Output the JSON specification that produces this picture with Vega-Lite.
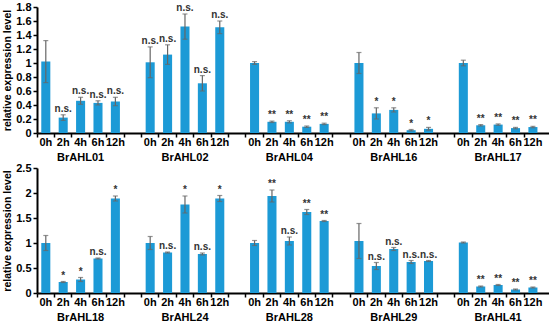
{
  "$schema": "https://vega.github.io/schema/vega-lite/v6.json",
  "padding": {"left": 2, "top": 1, "right": 0, "bottom": 0},
  "spacing": 0,
  "datasets": {
    "d": [
      {"row": 1, "gene": "BrAHL01", "time": "0h", "mean": 1.02, "err": 0.30, "sig": ""},
      {"row": 1, "gene": "BrAHL01", "time": "2h", "mean": 0.22, "err": 0.04, "sig": "n.s."},
      {"row": 1, "gene": "BrAHL01", "time": "4h", "mean": 0.46, "err": 0.05, "sig": "n.s."},
      {"row": 1, "gene": "BrAHL01", "time": "6h", "mean": 0.43, "err": 0.03, "sig": "n.s."},
      {"row": 1, "gene": "BrAHL01", "time": "12h", "mean": 0.45, "err": 0.06, "sig": "n.s."},
      {"row": 1, "gene": "BrAHL02", "time": "0h", "mean": 1.01, "err": 0.22, "sig": "n.s."},
      {"row": 1, "gene": "BrAHL02", "time": "2h", "mean": 1.12, "err": 0.14, "sig": "n.s."},
      {"row": 1, "gene": "BrAHL02", "time": "4h", "mean": 1.52, "err": 0.18, "sig": "n.s."},
      {"row": 1, "gene": "BrAHL02", "time": "6h", "mean": 0.71, "err": 0.11, "sig": "n.s."},
      {"row": 1, "gene": "BrAHL02", "time": "12h", "mean": 1.51, "err": 0.09, "sig": "n.s."},
      {"row": 1, "gene": "BrAHL04", "time": "0h", "mean": 1.00, "err": 0.02, "sig": ""},
      {"row": 1, "gene": "BrAHL04", "time": "2h", "mean": 0.16, "err": 0.01, "sig": "**"},
      {"row": 1, "gene": "BrAHL04", "time": "4h", "mean": 0.16, "err": 0.015, "sig": "**"},
      {"row": 1, "gene": "BrAHL04", "time": "6h", "mean": 0.09, "err": 0.01, "sig": "**"},
      {"row": 1, "gene": "BrAHL04", "time": "12h", "mean": 0.13, "err": 0.01, "sig": "**"},
      {"row": 1, "gene": "BrAHL16", "time": "0h", "mean": 1.00, "err": 0.15, "sig": ""},
      {"row": 1, "gene": "BrAHL16", "time": "2h", "mean": 0.28, "err": 0.08, "sig": "*"},
      {"row": 1, "gene": "BrAHL16", "time": "4h", "mean": 0.33, "err": 0.03, "sig": "*"},
      {"row": 1, "gene": "BrAHL16", "time": "6h", "mean": 0.04, "err": 0.01, "sig": "*"},
      {"row": 1, "gene": "BrAHL16", "time": "12h", "mean": 0.06, "err": 0.02, "sig": "*"},
      {"row": 1, "gene": "BrAHL17", "time": "0h", "mean": 1.00, "err": 0.04, "sig": ""},
      {"row": 1, "gene": "BrAHL17", "time": "2h", "mean": 0.11, "err": 0.01, "sig": "**"},
      {"row": 1, "gene": "BrAHL17", "time": "4h", "mean": 0.12, "err": 0.01, "sig": "**"},
      {"row": 1, "gene": "BrAHL17", "time": "6h", "mean": 0.07, "err": 0.01, "sig": "**"},
      {"row": 1, "gene": "BrAHL17", "time": "12h", "mean": 0.085, "err": 0.01, "sig": "**"},
      {"row": 2, "gene": "BrAHL18", "time": "0h", "mean": 1.00, "err": 0.15, "sig": ""},
      {"row": 2, "gene": "BrAHL18", "time": "2h", "mean": 0.22, "err": 0.01, "sig": "*"},
      {"row": 2, "gene": "BrAHL18", "time": "4h", "mean": 0.27, "err": 0.04, "sig": "*"},
      {"row": 2, "gene": "BrAHL18", "time": "6h", "mean": 0.69, "err": 0.01, "sig": "n.s."},
      {"row": 2, "gene": "BrAHL18", "time": "12h", "mean": 1.89, "err": 0.05, "sig": "*"},
      {"row": 2, "gene": "BrAHL24", "time": "0h", "mean": 1.00, "err": 0.13, "sig": ""},
      {"row": 2, "gene": "BrAHL24", "time": "2h", "mean": 0.81, "err": 0.01, "sig": "n.s."},
      {"row": 2, "gene": "BrAHL24", "time": "4h", "mean": 1.77, "err": 0.17, "sig": "*"},
      {"row": 2, "gene": "BrAHL24", "time": "6h", "mean": 0.78, "err": 0.02, "sig": "n.s."},
      {"row": 2, "gene": "BrAHL24", "time": "12h", "mean": 1.89, "err": 0.06, "sig": "*"},
      {"row": 2, "gene": "BrAHL28", "time": "0h", "mean": 1.00, "err": 0.05, "sig": ""},
      {"row": 2, "gene": "BrAHL28", "time": "2h", "mean": 1.94, "err": 0.12, "sig": "**"},
      {"row": 2, "gene": "BrAHL28", "time": "4h", "mean": 1.04, "err": 0.08, "sig": "n.s."},
      {"row": 2, "gene": "BrAHL28", "time": "6h", "mean": 1.62, "err": 0.05, "sig": "**"},
      {"row": 2, "gene": "BrAHL28", "time": "12h", "mean": 1.44, "err": 0.01, "sig": "**"},
      {"row": 2, "gene": "BrAHL29", "time": "0h", "mean": 1.04, "err": 0.35, "sig": ""},
      {"row": 2, "gene": "BrAHL29", "time": "2h", "mean": 0.54, "err": 0.07, "sig": "n.s."},
      {"row": 2, "gene": "BrAHL29", "time": "4h", "mean": 0.88, "err": 0.03, "sig": "n.s."},
      {"row": 2, "gene": "BrAHL29", "time": "6h", "mean": 0.62, "err": 0.03, "sig": "n.s."},
      {"row": 2, "gene": "BrAHL29", "time": "12h", "mean": 0.64, "err": 0.01, "sig": "n.s."},
      {"row": 2, "gene": "BrAHL41", "time": "0h", "mean": 1.01, "err": 0.01, "sig": ""},
      {"row": 2, "gene": "BrAHL41", "time": "2h", "mean": 0.13, "err": 0.01, "sig": "**"},
      {"row": 2, "gene": "BrAHL41", "time": "4h", "mean": 0.16, "err": 0.01, "sig": "**"},
      {"row": 2, "gene": "BrAHL41", "time": "6h", "mean": 0.07, "err": 0.01, "sig": "**"},
      {"row": 2, "gene": "BrAHL41", "time": "12h", "mean": 0.11, "err": 0.01, "sig": "**"}
    ]
  },
  "vconcat": [
    {
      "width": 512,
      "height": 126,
      "data": {"name": "d"},
      "transform": [
        {"filter": "datum.row == 1"},
        {"calculate": "datum.gene + '|' + datum.time", "as": "key"},
        {"calculate": "datum.mean - datum.err", "as": "lo"},
        {"calculate": "datum.mean + datum.err", "as": "hi"}
      ],
      "resolve": {"axis": {"x": "independent"}},
      "encoding": {
        "x": {
          "field": "key", "type": "nominal", "sort": null, "axis": null,
          "scale": {
            "domain": ["BrAHL01|0h","BrAHL01|2h","BrAHL01|4h","BrAHL01|6h","BrAHL01|12h","gap1",
                       "BrAHL02|0h","BrAHL02|2h","BrAHL02|4h","BrAHL02|6h","BrAHL02|12h","gap2",
                       "BrAHL04|0h","BrAHL04|2h","BrAHL04|4h","BrAHL04|6h","BrAHL04|12h","gap3",
                       "BrAHL16|0h","BrAHL16|2h","BrAHL16|4h","BrAHL16|6h","BrAHL16|12h","gap4",
                       "BrAHL17|0h","BrAHL17|2h","BrAHL17|4h","BrAHL17|6h","BrAHL17|12h"],
            "paddingInner": 0.48, "paddingOuter": 0.455, "align": 0.27
          }
        },
        "y": {
          "type": "quantitative",
          "scale": {"domain": [0, 1.8], "nice": false},
          "axis": {"title": "relative expression level", "values": [0, 0.2, 0.4, 0.6, 0.8, 1, 1.2, 1.4, 1.6, 1.8], "format": ".1~f"}
        }
      },
      "layer": [
        {
          "mark": {"type": "bar", "color": "#1C9AD6"},
          "encoding": {
            "x": {
              "field": "key", "type": "nominal", "sort": null,
              "scale": {
                "domain": ["BrAHL01|0h","BrAHL01|2h","BrAHL01|4h","BrAHL01|6h","BrAHL01|12h","gap1",
                           "BrAHL02|0h","BrAHL02|2h","BrAHL02|4h","BrAHL02|6h","BrAHL02|12h","gap2",
                           "BrAHL04|0h","BrAHL04|2h","BrAHL04|4h","BrAHL04|6h","BrAHL04|12h","gap3",
                           "BrAHL16|0h","BrAHL16|2h","BrAHL16|4h","BrAHL16|6h","BrAHL16|12h","gap4",
                           "BrAHL17|0h","BrAHL17|2h","BrAHL17|4h","BrAHL17|6h","BrAHL17|12h"],
                "paddingInner": 0.48, "paddingOuter": 0.455, "align": 0.27
              },
              "axis": {
                "title": null, "labelAngle": 0, "orient": "bottom", "ticks": false, "labelPadding": 3,
                "labelExpr": "indexof(datum.value, '|') < 0 ? '' : split(datum.value, '|')[1]"
              }
            },
            "y": {"field": "mean"}
          }
        },
        {
          "mark": {"type": "rule", "color": "#666666", "strokeWidth": 1.2},
          "encoding": {
            "x": {
              "field": "key", "type": "nominal", "sort": null,
              "scale": {
                "domain": ["BrAHL01|0h","BrAHL01|2h","BrAHL01|4h","BrAHL01|6h","BrAHL01|12h","gap1",
                           "BrAHL02|0h","BrAHL02|2h","BrAHL02|4h","BrAHL02|6h","BrAHL02|12h","gap2",
                           "BrAHL04|0h","BrAHL04|2h","BrAHL04|4h","BrAHL04|6h","BrAHL04|12h","gap3",
                           "BrAHL16|0h","BrAHL16|2h","BrAHL16|4h","BrAHL16|6h","BrAHL16|12h","gap4",
                           "BrAHL17|0h","BrAHL17|2h","BrAHL17|4h","BrAHL17|6h","BrAHL17|12h"],
                "paddingInner": 0.48, "paddingOuter": 0.455, "align": 0.27
              },
              "axis": {
                "title": null, "orient": "bottom", "labels": false, "domain": false, "bandPosition": -0.46
              }
            },
            "y": {"field": "lo"}, "y2": {"field": "hi"}
          }
        },
        {
          "mark": {"type": "tick", "color": "#666666", "size": 5, "thickness": 1.2},
          "encoding": {"y": {"field": "hi"}}
        },
        {
          "mark": {"type": "tick", "color": "#666666", "size": 5, "thickness": 1.2},
          "encoding": {"y": {"field": "lo"}}
        },
        {
          "mark": {"type": "text", "baseline": "bottom", "dy": -1, "fontSize": 10, "fontWeight": "bold", "color": "#333333"},
          "encoding": {
            "x": {
              "field": "key", "type": "nominal", "sort": null,
              "scale": {
                "domain": ["BrAHL01|0h","BrAHL01|2h","BrAHL01|4h","BrAHL01|6h","BrAHL01|12h","gap1",
                           "BrAHL02|0h","BrAHL02|2h","BrAHL02|4h","BrAHL02|6h","BrAHL02|12h","gap2",
                           "BrAHL04|0h","BrAHL04|2h","BrAHL04|4h","BrAHL04|6h","BrAHL04|12h","gap3",
                           "BrAHL16|0h","BrAHL16|2h","BrAHL16|4h","BrAHL16|6h","BrAHL16|12h","gap4",
                           "BrAHL17|0h","BrAHL17|2h","BrAHL17|4h","BrAHL17|6h","BrAHL17|12h"],
                "paddingInner": 0.48, "paddingOuter": 0.455, "align": 0.27
              },
              "axis": {
                "title": null, "labelAngle": 0, "orient": "bottom", "domain": false, "ticks": false, "labelPadding": 18,
                "labelExpr": "indexof(datum.value, '|4h') < 0 ? '' : split(datum.value, '|')[0]"
              }
            },
            "y": {"field": "hi"},
            "text": {"field": "sig"}
          }
        }
      ]
    },
    {
      "width": 512,
      "height": 125,
      "data": {"name": "d"},
      "transform": [
        {"filter": "datum.row == 2"},
        {"calculate": "datum.gene + '|' + datum.time", "as": "key"},
        {"calculate": "datum.mean - datum.err", "as": "lo"},
        {"calculate": "datum.mean + datum.err", "as": "hi"}
      ],
      "resolve": {"axis": {"x": "independent"}},
      "encoding": {
        "x": {
          "field": "key", "type": "nominal", "sort": null, "axis": null,
          "scale": {
            "domain": ["BrAHL18|0h","BrAHL18|2h","BrAHL18|4h","BrAHL18|6h","BrAHL18|12h","gap1",
                       "BrAHL24|0h","BrAHL24|2h","BrAHL24|4h","BrAHL24|6h","BrAHL24|12h","gap2",
                       "BrAHL28|0h","BrAHL28|2h","BrAHL28|4h","BrAHL28|6h","BrAHL28|12h","gap3",
                       "BrAHL29|0h","BrAHL29|2h","BrAHL29|4h","BrAHL29|6h","BrAHL29|12h","gap4",
                       "BrAHL41|0h","BrAHL41|2h","BrAHL41|4h","BrAHL41|6h","BrAHL41|12h"],
            "paddingInner": 0.48, "paddingOuter": 0.455, "align": 0.27
          }
        },
        "y": {
          "type": "quantitative",
          "scale": {"domain": [0, 2.5], "nice": false},
          "axis": {"title": "relative expression level", "values": [0, 0.5, 1, 1.5, 2, 2.5], "format": ".1~f"}
        }
      },
      "layer": [
        {
          "mark": {"type": "bar", "color": "#1C9AD6"},
          "encoding": {
            "x": {
              "field": "key", "type": "nominal", "sort": null,
              "scale": {
                "domain": ["BrAHL18|0h","BrAHL18|2h","BrAHL18|4h","BrAHL18|6h","BrAHL18|12h","gap1",
                           "BrAHL24|0h","BrAHL24|2h","BrAHL24|4h","BrAHL24|6h","BrAHL24|12h","gap2",
                           "BrAHL28|0h","BrAHL28|2h","BrAHL28|4h","BrAHL28|6h","BrAHL28|12h","gap3",
                           "BrAHL29|0h","BrAHL29|2h","BrAHL29|4h","BrAHL29|6h","BrAHL29|12h","gap4",
                           "BrAHL41|0h","BrAHL41|2h","BrAHL41|4h","BrAHL41|6h","BrAHL41|12h"],
                "paddingInner": 0.48, "paddingOuter": 0.455, "align": 0.27
              },
              "axis": {
                "title": null, "labelAngle": 0, "orient": "bottom", "ticks": false, "labelPadding": 3,
                "labelExpr": "indexof(datum.value, '|') < 0 ? '' : split(datum.value, '|')[1]"
              }
            },
            "y": {"field": "mean"}
          }
        },
        {
          "mark": {"type": "rule", "color": "#666666", "strokeWidth": 1.2},
          "encoding": {
            "x": {
              "field": "key", "type": "nominal", "sort": null,
              "scale": {
                "domain": ["BrAHL18|0h","BrAHL18|2h","BrAHL18|4h","BrAHL18|6h","BrAHL18|12h","gap1",
                           "BrAHL24|0h","BrAHL24|2h","BrAHL24|4h","BrAHL24|6h","BrAHL24|12h","gap2",
                           "BrAHL28|0h","BrAHL28|2h","BrAHL28|4h","BrAHL28|6h","BrAHL28|12h","gap3",
                           "BrAHL29|0h","BrAHL29|2h","BrAHL29|4h","BrAHL29|6h","BrAHL29|12h","gap4",
                           "BrAHL41|0h","BrAHL41|2h","BrAHL41|4h","BrAHL41|6h","BrAHL41|12h"],
                "paddingInner": 0.48, "paddingOuter": 0.455, "align": 0.27
              },
              "axis": {
                "title": null, "orient": "bottom", "labels": false, "domain": false, "bandPosition": -0.46
              }
            },
            "y": {"field": "lo"}, "y2": {"field": "hi"}
          }
        },
        {
          "mark": {"type": "tick", "color": "#666666", "size": 5, "thickness": 1.2},
          "encoding": {"y": {"field": "hi"}}
        },
        {
          "mark": {"type": "tick", "color": "#666666", "size": 5, "thickness": 1.2},
          "encoding": {"y": {"field": "lo"}}
        },
        {
          "mark": {"type": "text", "baseline": "bottom", "dy": -1, "fontSize": 10, "fontWeight": "bold", "color": "#333333"},
          "encoding": {
            "x": {
              "field": "key", "type": "nominal", "sort": null,
              "scale": {
                "domain": ["BrAHL18|0h","BrAHL18|2h","BrAHL18|4h","BrAHL18|6h","BrAHL18|12h","gap1",
                           "BrAHL24|0h","BrAHL24|2h","BrAHL24|4h","BrAHL24|6h","BrAHL24|12h","gap2",
                           "BrAHL28|0h","BrAHL28|2h","BrAHL28|4h","BrAHL28|6h","BrAHL28|12h","gap3",
                           "BrAHL29|0h","BrAHL29|2h","BrAHL29|4h","BrAHL29|6h","BrAHL29|12h","gap4",
                           "BrAHL41|0h","BrAHL41|2h","BrAHL41|4h","BrAHL41|6h","BrAHL41|12h"],
                "paddingInner": 0.48, "paddingOuter": 0.455, "align": 0.27
              },
              "axis": {
                "title": null, "labelAngle": 0, "orient": "bottom", "domain": false, "ticks": false, "labelPadding": 18,
                "labelExpr": "indexof(datum.value, '|4h') < 0 ? '' : split(datum.value, '|')[0]"
              }
            },
            "y": {"field": "hi"},
            "text": {"field": "sig"}
          }
        }
      ]
    }
  ],
  "config": {
    "font": "Liberation Sans",
    "view": {"stroke": null},
    "axis": {
      "domainColor": "#000000", "domainWidth": 2, "tickColor": "#000000", "tickWidth": 1.5, "tickSize": 4,
      "labelFont": "Liberation Sans", "labelFontWeight": "bold", "labelFontSize": 11, "labelColor": "#000000",
      "titleFont": "Liberation Sans", "titleFontWeight": "bold", "titleFontSize": 10.5, "titleColor": "#000000",
      "grid": false, "labelOverlap": false, "titlePadding": 3
    }
  }
}
